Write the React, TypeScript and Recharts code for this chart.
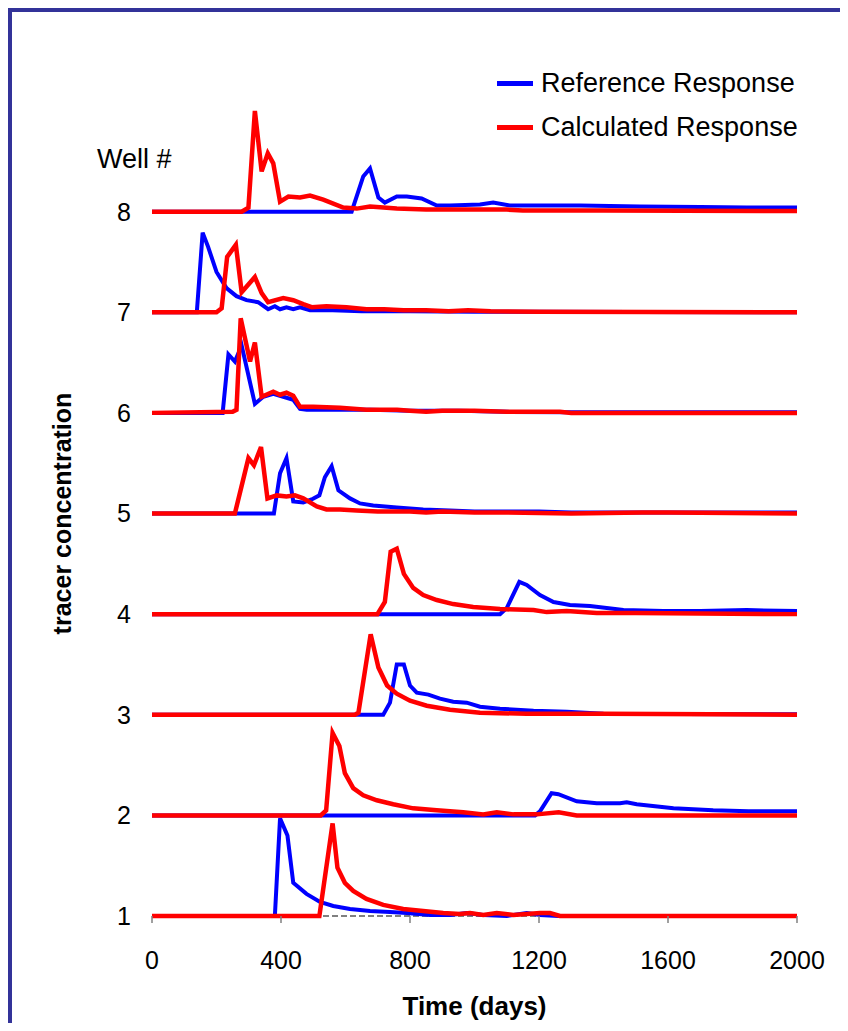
import { LineChart, Line, XAxis, YAxis, Legend } from "recharts";

// Tracer breakthrough curves, one pair per well.
// Each point is [day, concentration above the well's baseline]; the well number is added as an offset.

const wellNumbers = [1, 2, 3, 4, 5, 6, 7, 8];
const xTicks = [0, 400, 800, 1200, 1600, 2000];
const yTicks = [1, 2, 3, 4, 5, 6, 7, 8];
const axisBase = [
  { t: 0, y: 1 },
  { t: 2000, y: 1 },
];

const well1Ref: [number, number][] = [
  [0, 0], [381, 0], [397, 0.97], [420, 0.8], [438, 0.33], [479, 0.22], [521, 0.14], [562, 0.1],
  [614, 0.07], [676, 0.05], [738, 0.04], [790, 0.03], [862, 0.01], [924, 0.01], [976, 0.03],
  [1027, 0.01], [1100, 0], [1162, 0.03], [1203, 0.01], [1260, 0], [2000, 0],
];
const well1Calc: [number, number][] = [
  [0, 0], [519, 0], [560, 0.92], [575, 0.48], [598, 0.33], [624, 0.25], [665, 0.17], [717, 0.11],
  [779, 0.07], [841, 0.05], [903, 0.03], [955, 0.02], [986, 0.03], [1027, 0.01], [1069, 0.03],
  [1121, 0.01], [1203, 0.03], [1234, 0.03], [1265, 0], [2000, 0],
];

const well2Ref: [number, number][] = [
  [0, 0], [1188, 0], [1203, 0.04], [1239, 0.22], [1260, 0.21], [1317, 0.14], [1379, 0.12],
  [1451, 0.12], [1472, 0.13], [1503, 0.11], [1617, 0.07], [1740, 0.05], [1850, 0.04], [2000, 0.04],
];
const well2Calc: [number, number][] = [
  [0, 0], [523, 0], [540, 0.05], [560, 0.82], [581, 0.69], [598, 0.42], [624, 0.27], [655, 0.2],
  [697, 0.15], [748, 0.11], [810, 0.07], [883, 0.05], [965, 0.03], [1027, 0.01], [1069, 0.03],
  [1121, 0.01], [1193, 0.01], [1261, 0.03], [1317, 0], [2000, 0],
];

const well3Ref: [number, number][] = [
  [0, 0], [717, 0], [738, 0.12], [759, 0.5], [781, 0.5], [800, 0.29], [821, 0.22], [857, 0.2],
  [893, 0.16], [934, 0.13], [976, 0.12], [1017, 0.08], [1079, 0.06], [1183, 0.04], [1286, 0.03],
  [1400, 0.01], [2000, 0.005],
];
const well3Calc: [number, number][] = [
  [0, 0], [629, 0], [640, 0.02], [678, 0.8], [702, 0.47], [729, 0.29], [759, 0.21], [800, 0.14],
  [852, 0.09], [924, 0.05], [1017, 0.02], [1162, 0.01], [1400, 0.01], [2000, 0],
];

const well4Ref: [number, number][] = [
  [0, 0], [1079, 0], [1100, 0.06], [1139, 0.32], [1162, 0.29], [1203, 0.19], [1245, 0.12],
  [1296, 0.09], [1358, 0.08], [1462, 0.04], [1586, 0.03], [1700, 0.03], [1844, 0.04], [2000, 0.03],
];
const well4Calc: [number, number][] = [
  [0, 0], [699, 0], [722, 0.12], [740, 0.62], [759, 0.65], [781, 0.4], [810, 0.26], [841, 0.19],
  [883, 0.14], [934, 0.1], [996, 0.07], [1079, 0.05], [1183, 0.04], [1224, 0.02], [1286, 0.03],
  [1379, 0.01], [1500, 0.01], [2000, 0],
];

const well5Ref: [number, number][] = [
  [0, 0], [378, 0], [397, 0.4], [417, 0.55], [438, 0.12], [469, 0.11], [495, 0.14], [519, 0.18],
  [536, 0.36], [557, 0.47], [578, 0.23], [614, 0.15], [645, 0.1], [686, 0.08], [759, 0.06],
  [841, 0.04], [924, 0.03], [1000, 0.02], [1200, 0.02], [1300, 0.01], [2000, 0.01],
];
const well5Calc: [number, number][] = [
  [0, 0], [257, 0], [299, 0.55], [316, 0.48], [338, 0.66], [358, 0.15], [387, 0.18], [417, 0.17],
  [443, 0.18], [469, 0.15], [511, 0.07], [541, 0.04], [583, 0.04], [635, 0.03], [700, 0.02],
  [800, 0.02], [850, 0.01], [900, 0.02], [1000, 0.01], [1100, 0.01], [1300, 0], [1520, 0.01],
  [1600, 0.01], [2000, 0],
];

const well6Ref: [number, number][] = [
  [0, 0], [219, 0], [237, 0.58], [257, 0.51], [278, 0.67], [319, 0.09], [345, 0.16], [376, 0.19],
  [407, 0.16], [438, 0.13], [459, 0.04], [480, 0.03], [676, 0.03], [800, 0.02], [950, 0.02],
  [1100, 0.01], [1300, 0.005], [2000, 0.005],
];
const well6Calc: [number, number][] = [
  [0, 0], [250, 0.01], [262, 0.03], [275, 0.94], [304, 0.51], [319, 0.7], [340, 0.16], [376, 0.21],
  [397, 0.18], [417, 0.2], [438, 0.17], [459, 0.06], [500, 0.06], [583, 0.05], [665, 0.03],
  [760, 0.03], [800, 0.02], [850, 0.01], [900, 0.02], [1000, 0.02], [1100, 0.01], [1265, 0.01],
  [1300, 0], [2000, 0],
];

const well7Ref: [number, number][] = [
  [0, 0], [139, 0], [157, 0.79], [174, 0.65], [200, 0.4], [231, 0.24], [262, 0.16], [293, 0.12],
  [329, 0.1], [360, 0.03], [381, 0.06], [397, 0.03], [417, 0.05], [438, 0.03], [459, 0.05],
  [490, 0.02], [560, 0.02], [650, 0.01], [800, 0.01], [1000, 0.005], [2000, 0],
];
const well7Calc: [number, number][] = [
  [0, 0], [200, 0], [216, 0.04], [233, 0.55], [260, 0.67], [278, 0.2], [319, 0.35], [340, 0.19],
  [360, 0.1], [407, 0.14], [438, 0.12], [469, 0.08], [495, 0.05], [541, 0.06], [603, 0.05],
  [665, 0.03], [720, 0.03], [780, 0.02], [850, 0.02], [920, 0.01], [980, 0.02], [1050, 0.01],
  [1200, 0.005], [2000, 0],
];

const well8Ref: [number, number][] = [
  [0, 0], [619, 0], [655, 0.35], [676, 0.43], [702, 0.14], [722, 0.09], [759, 0.15], [790, 0.15],
  [836, 0.13], [883, 0.06], [924, 0.06], [1017, 0.07], [1058, 0.09], [1110, 0.06], [1200, 0.06],
  [1327, 0.06], [1513, 0.05], [1700, 0.045], [1844, 0.04], [2000, 0.04],
];
const well8Calc: [number, number][] = [
  [0, 0], [278, 0], [299, 0.04], [319, 1.0], [340, 0.4], [359, 0.58], [376, 0.48], [397, 0.1],
  [423, 0.15], [459, 0.14], [490, 0.16], [531, 0.12], [593, 0.04], [635, 0.03], [676, 0.05],
  [759, 0.03], [850, 0.02], [1100, 0.02], [1150, 0.01], [1400, 0.01], [2000, 0.005],
];

const refSeries = [well1Ref, well2Ref, well3Ref, well4Ref, well5Ref, well6Ref, well7Ref, well8Ref];
const calcSeries = [well1Calc, well2Calc, well3Calc, well4Calc, well5Calc, well6Calc, well7Calc, well8Calc];

const legendItems = [
  { name: "Reference Response", color: "#0000FF" },
  { name: "Calculated Response", color: "#FF0000" },
];

const REF_COLOR = "#0000FF";
const CALC_COLOR = "#FF0000";
const FONT = "'Liberation Sans', Arial, sans-serif";

const toPoints = (well: number, pts: [number, number][]) =>
  pts.map(([t, c]) => ({ t, y: well + c }));

const ChartLegend = () => (
  <div style={{ fontFamily: FONT, fontSize: 27, color: "#000" }}>
    {legendItems.map((item) => (
      <div key={item.name} style={{ display: "flex", alignItems: "center", height: 44 }}>
        <span
          style={{ display: "inline-block", width: 36, height: 5, background: item.color, marginRight: 8 }}
        />
        <span style={{ whiteSpace: "nowrap" }}>{item.name}</span>
      </div>
    ))}
  </div>
);

export default function App() {
  return (
    <div style={{ position: "relative", width: 840, height: 1015, overflow: "hidden", background: "#fff" }}>
      {/* frame around the chart, cut off at the right and bottom */}
      <div
        style={{
          position: "absolute",
          left: 0,
          top: 0,
          width: 900,
          height: 1100,
          border: "4px solid #333399",
          boxSizing: "border-box",
        }}
      />
      <div style={{ position: "absolute", left: 0, top: 0 }}>
        <LineChart width={832} height={1015} margin={{ top: 103, right: 43, bottom: 0, left: 0 }}>
          <XAxis
            dataKey="t"
            type="number"
            domain={[0, 2000]}
            ticks={xTicks}
            interval={0}
            height={107}
            axisLine={false}
            tickLine={{ stroke: "#808080", strokeWidth: 1.5 }}
            tickSize={7}
            tickMargin={28}
            tick={{ fill: "#000", fontSize: 25, fontFamily: FONT }}
            label={{
              value: "Time (days)",
              position: "insideBottom",
              offset: 8,
              style: { fill: "#000", fontSize: 26, fontWeight: "bold", fontFamily: FONT },
            }}
          />
          <YAxis
            type="number"
            domain={[1, 9]}
            ticks={yTicks}
            interval={0}
            width={144}
            axisLine={false}
            tickLine={false}
            tickSize={0}
            tickMargin={21}
            tick={{ fill: "#000", fontSize: 25, fontFamily: FONT }}
            label={{
              value: "tracer concentration",
              angle: -90,
              position: "insideLeft",
              offset: 54,
              style: { textAnchor: "middle", fill: "#000", fontSize: 25, fontWeight: "bold", fontFamily: FONT },
            }}
          />
          <Legend
            layout="vertical"
            align="center"
            verticalAlign="middle"
            wrapperStyle={{ left: 489, top: 53, width: 340 }}
            content={() => <ChartLegend />}
          />
          {/* dashed base line of the time axis, kept underneath the curves */}
          <Line
            data={axisBase}
            dataKey="y"
            type="linear"
            stroke="#808080"
            strokeWidth={2}
            strokeDasharray="6 3"
            dot={false}
            activeDot={false}
            legendType="none"
            isAnimationActive={false}
          />
          {refSeries.map((pts, i) => (
            <Line
              key={`ref-${wellNumbers[i]}`}
              data={toPoints(wellNumbers[i], pts)}
              dataKey="y"
              type="linear"
              stroke={REF_COLOR}
              strokeWidth={4}
              dot={false}
              activeDot={false}
              legendType="none"
              isAnimationActive={false}
            />
          ))}
          {calcSeries.map((pts, i) => (
            <Line
              key={`calc-${wellNumbers[i]}`}
              data={toPoints(wellNumbers[i], pts)}
              dataKey="y"
              type="linear"
              stroke={CALC_COLOR}
              strokeWidth={4.5}
              dot={false}
              activeDot={false}
              legendType="none"
              isAnimationActive={false}
            />
          ))}
          <text x={89} y={160} fontSize={27} fontFamily={FONT} fill="#000">
            Well #
          </text>
        </LineChart>
      </div>
    </div>
  );
}
